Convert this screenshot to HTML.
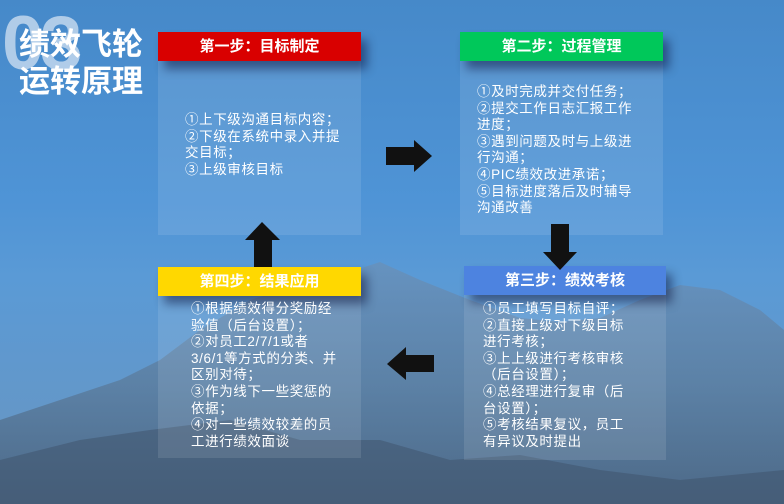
<!DOCTYPE html>
<html><head><meta charset="utf-8"><style>
body{margin:0;width:784px;height:504px;overflow:hidden;font-family:"Liberation Sans","Noto Sans CJK SC",sans-serif;}
#bg{position:absolute;left:0;top:0;width:784px;height:504px;background:linear-gradient(#4689c9 0%,#4f94d6 40%,#5a9ad6 55%,#6a95bf 100%);}
.body{position:absolute;background:rgba(255,255,255,0.1);}
.hd{position:absolute;height:29px;line-height:29px;text-align:center;color:#fff;font-weight:bold;font-size:15px;box-shadow:6px 8px 10px rgba(0,0,40,0.45);}
.tx{position:absolute;color:#fff;font-size:13.5px;line-height:16.6px;white-space:nowrap;letter-spacing:0.6px;}
.t{position:absolute;color:#fff;font-weight:bold;font-size:31px;line-height:37px;}
</style></head><body>
<div id="bg"></div>
<svg width="784" height="504" style="position:absolute;left:0;top:0">
<defs><linearGradient id="m" x1="0" y1="0" x2="0" y2="1"><stop offset="0" stop-color="#6a90b8"/><stop offset="0.5" stop-color="#5a7a9a"/><stop offset="1" stop-color="#435a74"/></linearGradient></defs>
<polygon fill="url(#m)" opacity="0.75" points="0,420 60,400 120,380 160,360 200,330 250,300 300,285 340,275 380,262 420,280 470,300 520,318 560,322 600,318 640,300 680,285 720,290 760,310 784,330 784,504 0,504"/>
<polygon fill="#3d5269" opacity="0.5" points="0,460 80,440 150,430 230,420 300,440 380,440 450,460 520,455 600,470 680,480 784,470 784,504 0,504"/>
</svg>
<div class="t" style="left:2px;top:6px;font-size:76px;color:#c3d8ee;opacity:0.85;line-height:76px;letter-spacing:-4px">03</div>
<div class="t" style="left:19px;top:26px">绩效飞轮<br>运转原理</div>

<div class="body" style="left:158px;top:61px;width:203px;height:174px"></div>
<div class="body" style="left:460px;top:61px;width:203px;height:174px"></div>
<div class="body" style="left:464px;top:295px;width:202px;height:165px"></div>
<div class="body" style="left:158px;top:296px;width:203px;height:162px"></div>

<div class="hd" style="left:158px;top:32px;width:203px;background:#d90000">第一步：目标制定</div>
<div class="hd" style="left:460px;top:32px;width:203px;background:#00c85a">第二步：过程管理</div>
<div class="hd" style="left:464px;top:266px;width:202px;background:#4d83e0">第三步：绩效考核</div>
<div class="hd" style="left:158px;top:267px;width:203px;background:#ffd800">第四步：结果应用</div>

<div class="tx" style="left:185px;top:112px">①上下级沟通目标内容；<br>②下级在系统中录入并提<br>交目标；<br>③上级审核目标</div>
<div class="tx" style="left:477px;top:84px">①及时完成并交付任务；<br>②提交工作日志汇报工作<br>进度；<br>③遇到问题及时与上级进<br>行沟通；<br>④PIC绩效改进承诺；<br>⑤目标进度落后及时辅导<br>沟通改善</div>
<div class="tx" style="left:483px;top:301px">①员工填写目标自评；<br>②直接上级对下级目标<br>进行考核；<br>③上上级进行考核审核<br>（后台设置）；<br>④总经理进行复审（后<br>台设置）；<br>⑤考核结果复议，员工<br>有异议及时提出</div>
<div class="tx" style="left:191px;top:301px">①根据绩效得分奖励经<br>验值（后台设置）；<br>②对员工2/7/1或者<br>3/6/1等方式的分类、并<br>区别对待；<br>③作为线下一些奖惩的<br>依据；<br>④对一些绩效较差的员<br>工进行绩效面谈</div>

<svg width="784" height="504" style="position:absolute;left:0;top:0">
<g fill="#111">
<polygon points="386,147 414,147 414,140 432,156 414,172 414,165 386,165"/>
<polygon points="551,224 569,224 569,252 577,252 560,270 543,252 551,252"/>
<polygon points="434,355 406,355 406,347 387,364 406,380 406,372 434,372"/>
<polygon points="254,267 272,267 272,240 280,240 262,222 245,240 254,240"/>
</g></svg>
</body></html>
